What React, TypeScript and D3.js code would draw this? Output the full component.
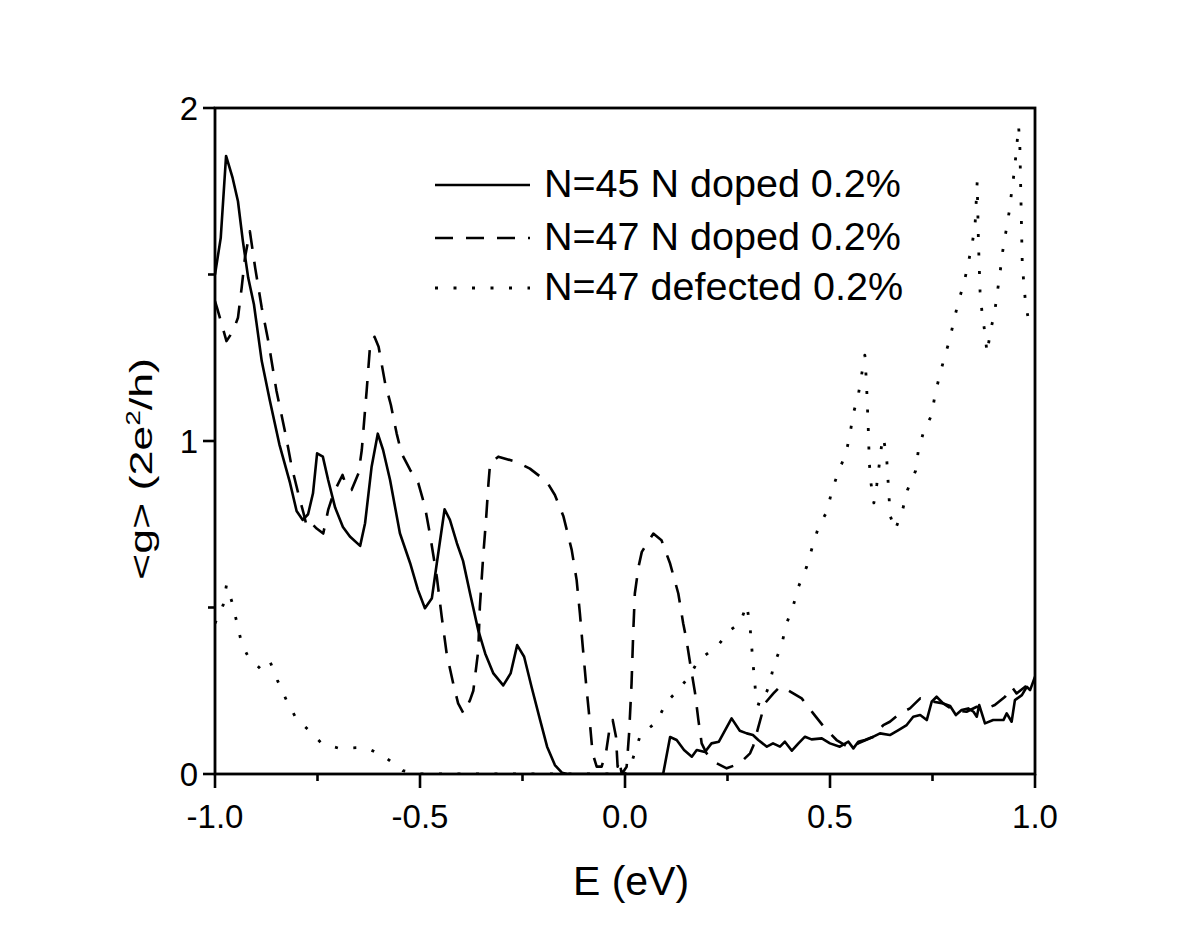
import React from "react";
import * as d3 from "d3";

// ---- data ----
const xTicksMajor = [-1.0, -0.5, 0.0, 0.5, 1.0];
const xTicksMinor = [-0.75, -0.25, 0.25, 0.75];
const yTicksMajor = [0, 1, 2];
const yTicksMinor = [0.5, 1.5];
const xTickLabels = ["-1.0", "-0.5", "0.0", "0.5", "1.0"];
const yTickLabels = ["0", "1", "2"];

const seriesNames = ["N=45 N doped 0.2%", "N=47 N doped 0.2%", "N=47 defected 0.2%"];

const e45 = [-1.0,-0.986,-0.973,-0.957,-0.944,-0.932,-0.919,-0.905,-0.886,-0.866,-0.843,-0.817,-0.801,-0.786,-0.773,-0.761,-0.751,-0.737,-0.724,-0.707,-0.688,-0.671,-0.646,-0.634,-0.618,-0.603,-0.59,-0.573,-0.549,-0.524,-0.505,-0.488,-0.471,-0.459,-0.44,-0.427,-0.41,-0.395,-0.378,-0.358,-0.341,-0.321,-0.297,-0.279,-0.263,-0.246,-0.228,-0.207,-0.19,-0.171,-0.154,-0.14,0.093,0.11,0.126,0.144,0.163,0.175,0.195,0.211,0.229,0.26,0.28,0.297,0.312,0.325,0.346,0.361,0.378,0.39,0.407,0.423,0.439,0.455,0.48,0.5,0.524,0.545,0.557,0.569,0.585,0.606,0.622,0.646,0.667,0.687,0.703,0.72,0.736,0.748,0.76,0.776,0.793,0.807,0.821,0.837,0.85,0.858,0.864,0.878,0.898,0.923,0.931,0.943,0.951,0.968,0.98,0.988,1.0];
const g45 = [1.5,1.61,1.856,1.79,1.72,1.6,1.49,1.41,1.24,1.12,0.99,0.874,0.79,0.763,0.78,0.843,0.963,0.953,0.883,0.8,0.742,0.713,0.685,0.753,0.923,1.022,0.973,0.883,0.723,0.633,0.553,0.498,0.528,0.633,0.795,0.763,0.693,0.64,0.543,0.432,0.362,0.302,0.266,0.302,0.387,0.352,0.262,0.162,0.082,0.027,0.004,0,0,0.111,0.102,0.072,0.052,0.072,0.066,0.092,0.097,0.167,0.13,0.122,0.117,0.102,0.082,0.092,0.082,0.097,0.07,0.092,0.112,0.104,0.107,0.092,0.082,0.097,0.077,0.097,0.102,0.112,0.122,0.117,0.132,0.147,0.172,0.177,0.162,0.217,0.232,0.212,0.204,0.177,0.192,0.197,0.187,0.172,0.207,0.152,0.162,0.162,0.182,0.157,0.222,0.237,0.262,0.252,0.292];

const e47 = [-1.0,-0.995,-0.972,-0.956,-0.944,-0.935,-0.927,-0.915,-0.902,-0.886,-0.87,-0.85,-0.827,-0.813,-0.797,-0.784,-0.776,-0.764,-0.752,-0.736,-0.724,-0.711,-0.689,-0.679,-0.667,-0.65,-0.642,-0.634,-0.63,-0.622,-0.611,-0.601,-0.585,-0.571,-0.557,-0.545,-0.524,-0.504,-0.488,-0.476,-0.459,-0.447,-0.435,-0.419,-0.407,-0.394,-0.378,-0.37,-0.358,-0.354,-0.346,-0.339,-0.333,-0.329,-0.309,-0.264,-0.232,-0.191,-0.171,-0.15,-0.13,-0.118,-0.11,-0.103,-0.095,-0.087,-0.079,-0.069,-0.057,-0.046,-0.037,-0.03,-0.022,-0.018,-0.014,-0.008,0.004,0.01,0.016,0.02,0.024,0.033,0.041,0.069,0.089,0.11,0.13,0.142,0.15,0.159,0.171,0.179,0.187,0.199,0.224,0.248,0.28,0.305,0.313,0.325,0.341,0.362,0.378,0.39,0.431,0.459,0.488,0.516,0.549,0.569,0.606,0.63,0.646,0.671,0.695,0.72,0.752,0.776,0.801,0.833,0.858,0.882,0.902,0.927,0.943,0.955,0.976,0.984,1.0];
const g47 = [1.42,1.4,1.3,1.33,1.37,1.46,1.55,1.63,1.52,1.4,1.3,1.15,1.015,0.923,0.843,0.783,0.742,0.752,0.737,0.722,0.793,0.843,0.898,0.862,0.853,0.903,0.973,1.093,1.153,1.283,1.313,1.283,1.173,1.108,1.023,0.963,0.913,0.873,0.803,0.722,0.592,0.472,0.362,0.272,0.212,0.182,0.222,0.25,0.37,0.502,0.652,0.763,0.873,0.933,0.953,0.937,0.917,0.878,0.838,0.773,0.673,0.583,0.482,0.382,0.272,0.172,0.062,0.022,0.022,0.067,0.142,0.162,0.112,0.022,0.042,0,0.022,0.122,0.272,0.422,0.542,0.622,0.667,0.722,0.702,0.632,0.542,0.452,0.402,0.332,0.242,0.162,0.092,0.062,0.032,0.017,0.032,0.062,0.085,0.14,0.212,0.242,0.262,0.257,0.227,0.182,0.137,0.102,0.077,0.092,0.112,0.147,0.157,0.182,0.197,0.227,0.217,0.212,0.192,0.187,0.202,0.197,0.207,0.232,0.262,0.242,0.262,0.267,0.282];

const eDef = [-1.0,-0.98,-0.972,-0.959,-0.947,-0.935,-0.919,-0.89,-0.867,-0.848,-0.824,-0.802,-0.772,-0.74,-0.697,-0.654,-0.622,-0.581,-0.542,-0.5,0.0,0.015,0.037,0.077,0.102,0.13,0.159,0.179,0.224,0.256,0.28,0.297,0.305,0.313,0.321,0.333,0.352,0.363,0.382,0.393,0.411,0.423,0.443,0.457,0.472,0.492,0.504,0.52,0.539,0.549,0.557,0.569,0.577,0.585,0.589,0.593,0.596,0.6,0.607,0.614,0.62,0.626,0.63,0.638,0.644,0.647,0.659,0.677,0.689,0.709,0.715,0.728,0.748,0.756,0.767,0.78,0.791,0.802,0.813,0.827,0.837,0.847,0.854,0.859,0.862,0.866,0.871,0.878,0.883,0.892,0.902,0.908,0.915,0.921,0.929,0.937,0.943,0.949,0.954,0.96,0.963,0.966,0.969,0.977,0.986,1.0];
const gDef = [0.452,0.508,0.568,0.518,0.457,0.392,0.352,0.317,0.342,0.282,0.217,0.167,0.132,0.092,0.077,0.079,0.074,0.047,0.01,0,0,0.03,0.115,0.157,0.217,0.252,0.297,0.342,0.382,0.432,0.452,0.508,0.442,0.322,0.212,0.207,0.267,0.327,0.387,0.448,0.508,0.562,0.622,0.682,0.742,0.787,0.847,0.907,0.962,1.023,1.083,1.138,1.198,1.258,1.173,1.05,0.933,0.873,0.814,0.868,0.928,0.988,1.012,0.953,0.832,0.775,0.733,0.793,0.853,0.911,0.967,1.027,1.078,1.138,1.195,1.255,1.3,1.36,1.418,1.475,1.533,1.593,1.653,1.778,1.6,1.45,1.383,1.323,1.264,1.333,1.39,1.445,1.508,1.568,1.628,1.688,1.748,1.805,1.865,1.946,1.889,1.709,1.529,1.413,1.351,1.35];

// ---- layout ----
const W = 1200;
const H = 927;
const L = 215, R = 1035, T = 108, B = 774;
const FONT = "'Liberation Sans', Arial, sans-serif";

const dashStyles = ["none", "18,13", "3,15.5"];

export default function App() {
  const x = d3.scaleLinear().domain([-1, 1]).range([L, R]);
  const y = d3.scaleLinear().domain([0, 2]).range([B, T]);
  const line = d3
    .line<[number, number]>()
    .x((d) => x(d[0]))
    .y((d) => y(d[1]));

  const series: [number, number][][] = [
    e45.map((e, i) => [e, g45[i]] as [number, number]),
    e47.map((e, i) => [e, g47[i]] as [number, number]),
    eDef.map((e, i) => [e, gDef[i]] as [number, number]),
  ];

  const legendY = [185, 238, 288];

  return (
    <svg
      width={W}
      height={H}
      style={{ position: "absolute", left: 0, top: 0, display: "block", background: "#fff" }}
      fontFamily={FONT}
    >
      <rect x={0} y={0} width={W} height={H} fill="#fff" />
      <defs>
        <clipPath id="plotclip">
          <rect x={L} y={T - 2} width={R - L} height={B - T + 2} />
        </clipPath>
      </defs>

      <g clipPath="url(#plotclip)">
        {series.map((s, i) => (
          <path
            key={i}
            d={line(s) || ""}
            fill="none"
            stroke="#000"
            strokeWidth={i === 2 ? 2.8 : 2.6}
            strokeDasharray={dashStyles[i]}
            strokeLinejoin="round"
          />
        ))}
      </g>

      {/* frame */}
      <rect x={L} y={T} width={R - L} height={B - T} fill="none" stroke="#000" strokeWidth={2.8} />

      {/* x ticks */}
      {xTicksMajor.map((t, i) => (
        <g key={"xm" + i}>
          <line x1={x(t)} x2={x(t)} y1={B} y2={B + 14} stroke="#000" strokeWidth={2.6} />
          <text x={x(t)} y={828} textAnchor="middle" fontSize={33} fill="#000">
            {xTickLabels[i]}
          </text>
        </g>
      ))}
      {xTicksMinor.map((t, i) => (
        <line key={"xn" + i} x1={x(t)} x2={x(t)} y1={B} y2={B + 7} stroke="#000" strokeWidth={2.6} />
      ))}

      {/* y ticks */}
      {yTicksMajor.map((t, i) => (
        <g key={"ym" + i}>
          <line x1={L - 12} x2={L} y1={y(t)} y2={y(t)} stroke="#000" strokeWidth={2.6} />
          <text x={L - 17} y={y(t)} dy="0.36em" textAnchor="end" fontSize={33} fill="#000">
            {yTickLabels[i]}
          </text>
        </g>
      ))}
      {yTicksMinor.map((t, i) => (
        <line key={"yn" + i} x1={L - 7} x2={L} y1={y(t)} y2={y(t)} stroke="#000" strokeWidth={2.6} />
      ))}

      {/* axis titles */}
      <text x={(L + R) / 2 + 6} y={895} textAnchor="middle" fontSize={41} fill="#000">
        E (eV)
      </text>
      <text
        transform={`translate(152, ${469}) rotate(-90)`}
        textAnchor="middle"
        fontSize={32}
        fill="#000"
        textLength={222}
        lengthAdjust="spacingAndGlyphs"
      >
        {"<g> (2e"}
        <tspan dy={-12} fontSize={20}>2</tspan>
        <tspan dy={12}>{"/h)"}</tspan>
      </text>

      {/* legend */}
      {seriesNames.map((name, i) => (
        <g key={"lg" + i}>
          <line
            x1={435}
            x2={530}
            y1={legendY[i]}
            y2={legendY[i]}
            stroke="#000"
            strokeWidth={i === 2 ? 2.8 : 2.6}
            strokeDasharray={dashStyles[i]}
          />
          <text x={544} y={legendY[i] + 12} fontSize={39.5} fill="#000">
            {name}
          </text>
        </g>
      ))}
    </svg>
  );
}
